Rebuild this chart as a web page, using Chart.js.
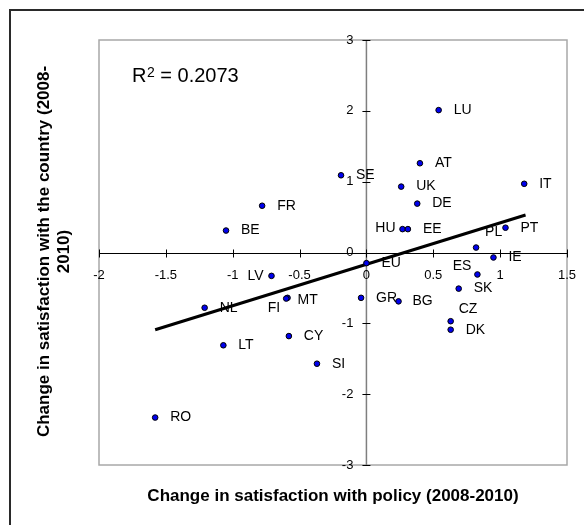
<!DOCTYPE html>
<html>
<head>
<meta charset="utf-8">
<script src="https://cdn.jsdelivr.net/npm/chart.js@4.4.0/dist/chart.umd.min.js"></script>
<style>
html,body{margin:0;padding:0;background:#fff;}
#wrap{width:584px;height:525px;}
</style>
</head>
<body>
<div id="wrap"><canvas id="c" width="584" height="525"></canvas></div>
<script>
// ---- data ----
const countries = ['LU','AT','SE','UK','IT','DE','FR','HU','EE','PT','BE','PL','IE','EU','ES','LV','SK','GR','BG','MT','FI','CZ','DK','CY','NL','LT','SI','RO'];
const policyChange  = [0.54, 0.40, -0.19, 0.26, 1.18, 0.38, -0.78, 0.27, 0.31, 1.04, -1.05, 0.82, 0.95, 0.00, 0.83, -0.71, 0.69, -0.04, 0.24, -0.59, -0.60, 0.63, 0.63, -0.58, -1.21, -1.07, -0.37, -1.58];
const countryChange = [2.01, 1.26, 1.09, 0.93, 0.97, 0.69, 0.66, 0.33, 0.33, 0.35, 0.31, 0.07, -0.07, -0.15, -0.31, -0.33, -0.51, -0.64, -0.69, -0.64, -0.65, -0.97, -1.09, -1.18, -0.78, -1.31, -1.57, -2.33];
const trendPolicy  = [-1.58, 1.19];
const trendCountry = [-1.09, 0.53];
const xTickValues = [-2, -1.5, -1, -0.5, 0, 0.5, 1, 1.5];
const xTickLabels = ['-2', '-1.5', '-1', '-0.5', '0', '0.5', '1', '1.5'];
const yTickValues = [-3, -2, -1, 0, 1, 2, 3];
const yTickLabels = ['-3', '-2', '-1', '0', '1', '2', '3'];
const xAxisTitle = 'Change in satisfaction with policy (2008-2010)';
const yAxisTitleLines = ['Change in satisfaction with the country (2008-', '2010)'];
const rSquaredValue = '0.2073';

// ---- styles ----
const FONT = "'Liberation Sans', Arial, Helvetica, sans-serif";
const labelStyleDefault = {dx: 15, dy: 0, align: 'left'};
const labelStyleOverrides = {
  HU: {dx: -7, dy: -1, align: 'right'},
  PL: {dx: 9, dy: -15, align: 'left'},
  ES: {dx: -6, dy: -8, align: 'right'},
  CZ: {dx: 8, dy: -12, align: 'left'},
  MT: {dx: 10, dy: 2, align: 'left'},
  FI: {dx: -6, dy: 10, align: 'right'},
  LV: {dx: -8, dy: 0, align: 'right'},
  BG: {dx: 14, dy: 0, align: 'left'}
};

const decor = {
  id: 'decor',
  beforeDraw(chart) {
    const ctx = chart.ctx;
    ctx.save();
    ctx.fillStyle = '#ffffff';
    ctx.fillRect(0, 0, chart.width, chart.height);
    ctx.restore();
  },
  beforeDatasetsDraw(chart) {
    const {ctx, chartArea: a, scales: {x, y}} = chart;
    ctx.save();
    // plot frame
    ctx.strokeStyle = '#a8a8a8';
    ctx.lineWidth = 1.5;
    ctx.strokeRect(a.left, a.top, a.right - a.left, a.bottom - a.top);
    const x0 = x.getPixelForValue(0);
    const y0 = y.getPixelForValue(0);
    // vertical axis
    ctx.strokeStyle = '#7f7f7f';
    ctx.lineWidth = 1.5;
    ctx.beginPath(); ctx.moveTo(x0, a.top); ctx.lineTo(x0, a.bottom); ctx.stroke();
    ctx.strokeStyle = '#000';
    ctx.lineWidth = 1;
    for (const v of yTickValues) {
      const py = Math.round(y.getPixelForValue(v)) + 0.5;
      ctx.beginPath(); ctx.moveTo(x0 - 4, py); ctx.lineTo(x0 + 4, py); ctx.stroke();
    }
    // horizontal axis
    const hy = Math.round(y0) + 0.5;
    ctx.beginPath(); ctx.moveTo(a.left, hy); ctx.lineTo(a.right, hy); ctx.stroke();
    for (const v of xTickValues) {
      const px = Math.round(x.getPixelForValue(v)) + 0.5;
      ctx.beginPath(); ctx.moveTo(px, hy - 4); ctx.lineTo(px, hy + 4); ctx.stroke();
    }
    // tick labels
    ctx.fillStyle = '#000';
    ctx.font = '13px ' + FONT;
    ctx.textAlign = 'center';
    ctx.textBaseline = 'middle';
    xTickValues.forEach((v, i) => {
      ctx.fillText(xTickLabels[i], x.getPixelForValue(v), y0 + 22.5);
    });
    ctx.textAlign = 'right';
    yTickValues.forEach((v, i) => {
      ctx.fillText(yTickLabels[i], x0 - 13, y.getPixelForValue(v));
    });
    // axis titles
    ctx.font = 'bold 17px ' + FONT;
    ctx.textAlign = 'center';
    ctx.textBaseline = 'alphabetic';
    ctx.fillText(xAxisTitle, (a.left + a.right) / 2, 501);
    const yc = (a.top + a.bottom) / 2 - 1;
    const baseX = [48.5, 69];
    yAxisTitleLines.forEach((t, i) => {
      ctx.save();
      ctx.translate(baseX[i], yc);
      ctx.rotate(-Math.PI / 2);
      ctx.fillText(t, 0, 0);
      ctx.restore();
    });
    // R squared
    ctx.textAlign = 'left';
    let rx = 132;
    ctx.font = '20px ' + FONT;
    ctx.fillText('R', rx, 82);
    rx += ctx.measureText('R').width + 0.5;
    ctx.font = '14px ' + FONT;
    ctx.fillText('2', rx, 76.5);
    rx += ctx.measureText('2').width;
    ctx.font = '20px ' + FONT;
    ctx.fillText(' = ' + rSquaredValue, rx, 82);
    ctx.restore();
  },
  afterDatasetsDraw(chart) {
    const {ctx, scales: {x, y}} = chart;
    ctx.save();
    ctx.fillStyle = '#000';
    ctx.font = '14px ' + FONT;
    ctx.textBaseline = 'middle';
    countries.forEach((c, i) => {
      const s = labelStyleOverrides[c] || labelStyleDefault;
      ctx.textAlign = s.align;
      ctx.fillText(c, x.getPixelForValue(policyChange[i]) + s.dx, y.getPixelForValue(countryChange[i]) + s.dy);
    });
    ctx.restore();
  },
  afterDraw(chart) {
    const ctx = chart.ctx;
    ctx.save();
    ctx.strokeStyle = '#2a2a2a';
    ctx.lineWidth = 2;
    ctx.strokeRect(10, 10, 700, 700);
    ctx.restore();
  }
};

new Chart(document.getElementById('c').getContext('2d'), {
  type: 'scatter',
  data: {
    datasets: [
      {
        label: 'Countries',
        data: countries.map((c, i) => ({x: policyChange[i], y: countryChange[i]})),
        backgroundColor: '#0000ee',
        borderColor: '#000000',
        borderWidth: 1,
        pointRadius: 2.8,
        pointHoverRadius: 2.8
      },
      {
        label: 'Trend',
        type: 'line',
        data: trendPolicy.map((v, i) => ({x: v, y: trendCountry[i]})),
        borderColor: '#000000',
        borderWidth: 3,
        pointRadius: 0,
        showLine: true,
        fill: false
      }
    ]
  },
  options: {
    responsive: false,
    animation: false,
    devicePixelRatio: 1,
    events: [],
    layout: {padding: {left: 99, top: 40, right: 17, bottom: 60}},
    scales: {
      x: {type: 'linear', min: -2, max: 1.5, display: false},
      y: {type: 'linear', min: -3, max: 3, display: false}
    },
    plugins: {legend: {display: false}, tooltip: {enabled: false}}
  },
  plugins: [decor]
});
</script>
</body>
</html>
